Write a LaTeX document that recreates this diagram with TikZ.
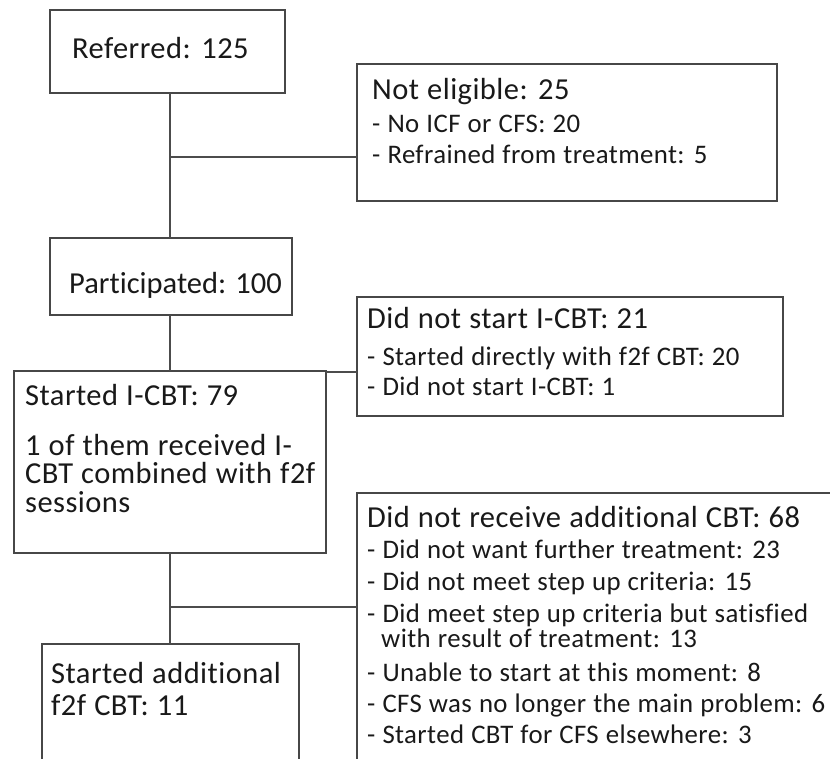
\documentclass[tikz,border=0pt]{standalone}
\usepackage{fontspec}
\setmainfont[Ligatures=NoCommon,WordSpace=1.1,LetterSpace=1.5]{Carlito}
\newfontfamily\plainfont[Ligatures=NoCommon]{Carlito}
\begin{document}
\begin{tikzpicture}[x=1pt,y=-1pt,
  box/.style={draw=black!72,line width=1.6pt,rectangle,anchor=north west,inner sep=0pt,outer sep=0pt},
  hd/.style={anchor=base west,inner sep=0pt,font=\fontsize{30.5}{34}\selectfont,text=black!90},
  it/.style={anchor=base west,inner sep=0pt,font=\fontsize{26.8}{28}\selectfont,text=black!90},
  conn/.style={draw=black!70,line width=1.6pt}]
\useasboundingbox (0,0) rectangle (830,758);
\clip (0,0) rectangle (830,758);
\fill[white] (0,0) rectangle (830,758);
% boxes
\node[box,minimum width=235pt,minimum height=83pt] (ref) at (50,10) {};
\node[box,minimum width=420pt,minimum height=137pt] (ne) at (357,64) {};
\node[box,minimum width=242pt,minimum height=77pt] (part) at (50,238) {};
\node[box,minimum width=426pt,minimum height=119pt] (dns) at (357,297) {};
\node[box,minimum width=312pt,minimum height=182pt] (sic) at (14,371) {};
\node[box,minimum width=257pt,minimum height=130pt] (sa) at (42,644) {};
\node[box,minimum width=490pt,minimum height=290pt] (dnr) at (357,493) {};
% junctions
\coordinate (j1) at (170,157);
\coordinate (j2) at (170,372);
\coordinate (j3) at (170,607);
% connectors
\draw[conn] (ref.south -| j1) -- (part.north -| j1);
\draw[conn] (j1) -- (ne.west |- j1);
\draw[conn] (part.south -| j1) -- (sic.north -| j1);
\draw[conn] (sic.east |- j2) -- (dns.west |- j2);
\draw[conn] (sic.south -| j3) -- (sa.north -| j3);
\draw[conn] (j3) -- (dnr.west |- j3);
% texts
\node[hd] (t1) at (72,58) {Referred: 125};
\node[hd,font=\plainfont\fontsize{30.5}{34}\selectfont] (t2) at (69,293) {Participated: 100};
\node[hd] (t3) at (372,99) {Not eligible: 25};
\node[it] (t3a) at (372,132) {- No ICF or CFS: 20};
\node[it] (t3b) at (372,163) {- Refrained from treatment: 5};
\node[hd] (t4) at (367,328) {Did not start I-CBT: 21};
\node[it] (t4a) at (367,365) {- Started directly with f2f CBT: 20};
\node[it] (t4b) at (367,395) {- Did not start I-CBT: 1};
\node[hd] (t5) at (25,405) {Started I-CBT: 79};
\node[hd] (t5a) at (25,455) {1 of them received I-};
\node[hd] (t5b) at (25,483) {CBT combined with f2f};
\node[hd] (t5c) at (25,512) {sessions};
\node[hd] (t6) at (51,683) {Started additional};
\node[hd] (t6a) at (51,715) {f2f CBT: 11};
\node[hd] (t7) at (367,527) {Did not receive additional CBT: 68};
\node[it] (t7a) at (367,558) {- Did not want further treatment: 23};
\node[it] (t7b) at (367,590) {- Did not meet step up criteria: 15};
\node[it] (t7c) at (367,622) {- Did meet step up criteria but satisfied};
\node[it] (t7d) at (381,647) {with result of treatment: 13};
\node[it] (t7e) at (367,681) {- Unable to start at this moment: 8};
\node[it] (t7f) at (367,712) {- CFS was no longer the main problem: 6};
\node[it] (t7g) at (367,743) {- Started CBT for CFS elsewhere: 3};
\end{tikzpicture}
\end{document}
